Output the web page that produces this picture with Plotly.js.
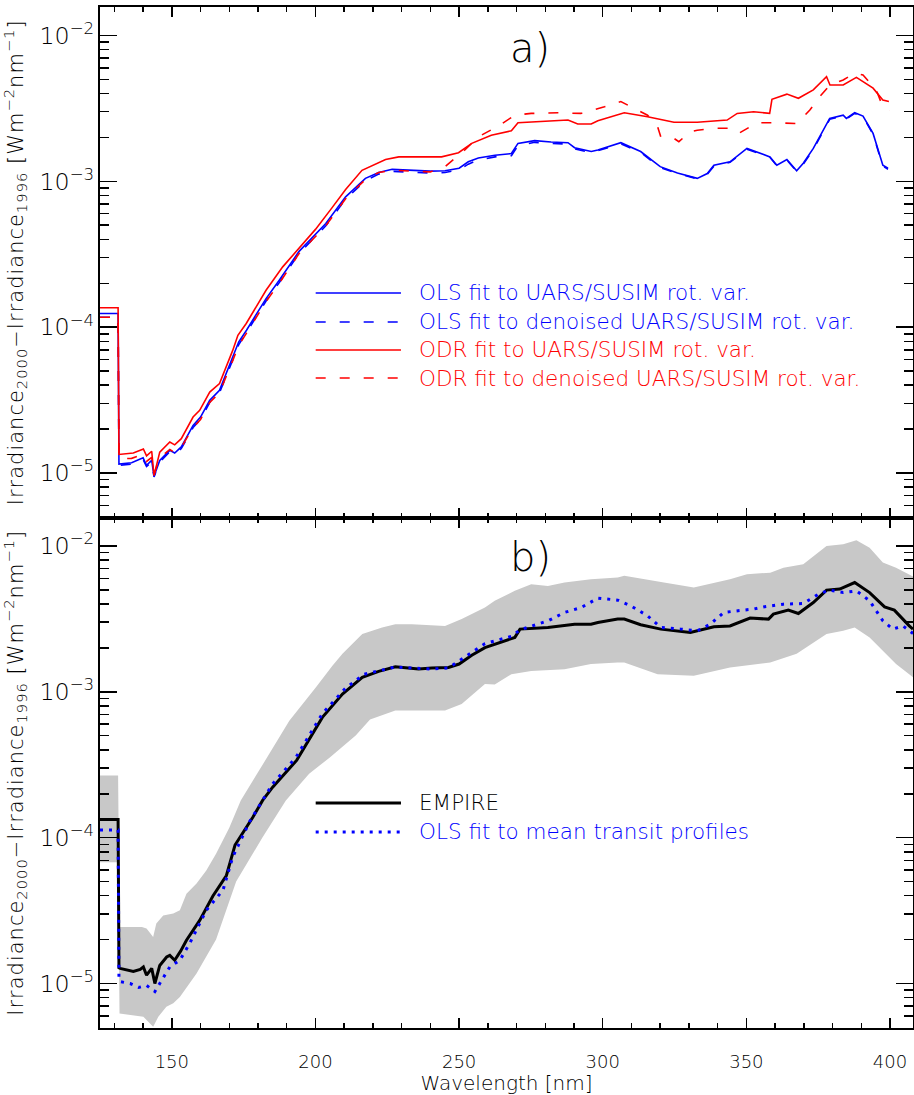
<!DOCTYPE html>
<html>
<head>
<meta charset="utf-8">
<script src="https://cdn.plot.ly/plotly-3.0.1.min.js"></script>
<style>
  html, body { margin: 0; padding: 0; background: #ffffff; }
  #chart { width: 914px; height: 1095px; }
  #chart text.ytitle, #chart text.y2title { letter-spacing: 1px; }
</style>
</head>
<body>
<div id="chart"></div>
<script>
// ---------- panel a: fits to UARS/SUSIM rotational variability ----------
const wlOls = [125,131.3,131.6,136,140,141.2,143,143.8,145.8,149.3,151,153.3,157.4,160,163.2,166.6,171.2,173.3,176,182.8,187.4,194.3,203.6,210.5,217.4,222,226.7,233.5,240,245.1,250,253.2,256.7,262.5,268.2,270.5,276.3,282,287.9,290.2,296,298.3,306.3,313.2,320,326,332.9,336.4,338.7,344.3,350.2,358.2,360.6,364.1,367.5,369.8,373.3,379,383.7,384.8,387.7,390.6,394.1,397.5,399.3];
const olsRot = [1.24e-4,1.24e-4,1.15e-5,1.175e-5,1.27e-5,1.13e-5,1.22e-5,9.5e-6,1.22e-5,1.43e-5,1.37e-5,1.51e-5,2.12e-5,2.42e-5,3.15e-5,3.69e-5,6.24e-5,7.94e-5,9.53e-5,1.57e-4,2.10e-4,3.31e-4,5.14e-4,7.83e-4,1.047e-3,1.15e-3,1.208e-3,1.194e-3,1.175e-3,1.18e-3,1.23e-3,1.36e-3,1.445e-3,1.51e-3,1.55e-3,1.82e-3,1.90e-3,1.86e-3,1.84e-3,1.70e-3,1.60e-3,1.64e-3,1.84e-3,1.60e-3,1.26e-3,1.14e-3,1.047e-3,1.13e-3,1.29e-3,1.36e-3,1.68e-3,1.47e-3,1.29e-3,1.41e-3,1.18e-3,1.33e-3,1.68e-3,2.70e-3,2.84e-3,2.70e-3,2.95e-3,2.80e-3,2.13e-3,1.29e-3,1.23e-3];
const olsDenoised = [1.17e-4,1.17e-4,1.13e-5,1.15e-5,1.24e-5,1.11e-5,1.19e-5,9.4e-6,1.19e-5,1.40e-5,1.34e-5,1.47e-5,2.05e-5,2.33e-5,3.05e-5,3.55e-5,5.95e-5,7.6e-5,9.2e-5,1.51e-4,2.02e-4,3.2e-4,4.95e-4,7.55e-4,1.01e-3,1.12e-3,1.17e-3,1.16e-3,1.14e-3,1.15e-3,1.20e-3,1.31e-3,1.40e-3,1.47e-3,1.50e-3,1.76e-3,1.85e-3,1.82e-3,1.80e-3,1.67e-3,1.57e-3,1.62e-3,1.81e-3,1.58e-3,1.24e-3,1.13e-3,1.04e-3,1.12e-3,1.27e-3,1.35e-3,1.66e-3,1.46e-3,1.28e-3,1.40e-3,1.17e-3,1.31e-3,1.65e-3,2.66e-3,2.81e-3,2.68e-3,2.92e-3,2.78e-3,2.10e-3,1.27e-3,1.21e-3];

const wlOdr = [125,131.3,131.6,136.6,140.1,141.2,143,143.8,145.8,149.3,151,153.3,157.4,159.7,163.2,166.6,171.2,173,175.9,182.8,188.6,194.3,200,205.8,210.5,216.2,224.4,229,238.2,243.9,249.8,254.4,261.2,268.2,270.5,277.5,287.9,291.3,296,298.3,307.5,315.6,324.8,332.9,343.3,346.8,352.5,358.1,358.9,364.1,368.1,373.3,377.9,379.1,383.7,388.3,394.1,397.5,399.6];
const odrRot = [1.36e-4,1.36e-4,1.34e-5,1.37e-5,1.46e-5,1.31e-5,1.41e-5,9.6e-6,1.39e-5,1.63e-5,1.56e-5,1.72e-5,2.42e-5,2.69e-5,3.59e-5,4.10e-5,6.93e-5,8.79e-5,1.06e-4,1.79e-4,2.59e-4,3.46e-4,4.68e-4,6.6e-4,8.8e-4,1.19e-3,1.41e-3,1.47e-3,1.46e-3,1.47e-3,1.57e-3,1.82e-3,2.07e-3,2.22e-3,2.52e-3,2.56e-3,2.63e-3,2.47e-3,2.47e-3,2.60e-3,2.95e-3,2.77e-3,2.54e-3,2.54e-3,2.63e-3,2.92e-3,3.0e-3,2.92e-3,3.65e-3,3.96e-3,3.71e-3,4.23e-3,5.21e-3,4.57e-3,4.57e-3,5.16e-3,4.35e-3,3.61e-3,3.52e-3];

const wlOdrDenoised = [125,131.3,131.6,136,140,141.2,143,143.8,145.8,149.3,151,153.3,157.4,160,163.2,166.6,171.2,173.3,176,182.8,187.4,194.3,203.6,210.5,217.4,222,226.7,233.5,240,245.1,252,256.7,263.6,269.4,275.1,284.4,292.4,300.6,306.3,311,315.6,319.1,320.2,324.8,326.5,330.5,332.9,338.7,344.3,347.3,351.3,353.7,360.6,367.5,372.1,375.5,379.1,383.7,387.7,390.6,395.2,397.5,399.8];
const odrDenoised = [1.17e-4,1.17e-4,1.25e-5,1.26e-5,1.34e-5,1.2e-5,1.28e-5,9.8e-6,1.27e-5,1.45e-5,1.38e-5,1.5e-5,2.05e-5,2.33e-5,3.05e-5,3.55e-5,5.9e-5,7.5e-5,9.1e-5,1.5e-4,2.0e-4,3.2e-4,4.95e-4,7.6e-4,1.03e-3,1.15e-3,1.19e-3,1.18e-3,1.16e-3,1.26e-3,1.64e-3,2.02e-3,2.39e-3,2.84e-3,2.92e-3,2.95e-3,2.92e-3,3.24e-3,3.52e-3,3.16e-3,2.84e-3,2.37e-3,2.02e-3,1.97e-3,1.87e-3,2.19e-3,2.24e-3,2.31e-3,2.31e-3,2.13e-3,2.37e-3,2.52e-3,2.52e-3,2.49e-3,3.08e-3,3.80e-3,4.57e-3,4.95e-3,5.51e-3,5.36e-3,4.23e-3,3.24e-3,3.05e-3];

// ---------- panel b: EMPIRE, transit-profile fit and uncertainty range ----------
const wlEmpire = [125,131.3,131.6,132,136.6,139,140.1,141.2,143,144.1,145.8,148.2,149.3,151,153,155.1,159.7,164.3,169,172,178.2,181.6,185.1,193.5,202.4,209.4,216.3,222,227.8,235.9,240.5,246.3,250,254.4,259,262.4,268.2,269.4,271.2,280.9,290.2,295.9,298.3,305.2,307.5,313.2,320.2,330.5,338.7,344.3,351.3,357.7,359.4,364.6,368.1,373.3,377.9,382.5,387.7,392.9,398.1,401.5,406.7,408];
const empire = [1.334e-4,1.334e-4,1.28e-5,1.27e-5,1.21e-5,1.25e-5,1.30e-5,1.14e-5,1.27e-5,1.0e-5,1.33e-5,1.52e-5,1.56e-5,1.445e-5,1.66e-5,1.98e-5,2.71e-5,3.98e-5,5.5e-5,8.9e-5,1.38e-4,1.80e-4,2.22e-4,3.4e-4,6.68e-4,9.66e-4,1.256e-3,1.38e-3,1.486e-3,1.432e-3,1.455e-3,1.469e-3,1.55e-3,1.78e-3,2.01e-3,2.12e-3,2.30e-3,2.36e-3,2.69e-3,2.76e-3,2.91e-3,2.91e-3,2.99e-3,3.15e-3,3.15e-3,2.88e-3,2.69e-3,2.55e-3,2.79e-3,2.83e-3,3.20e-3,3.15e-3,3.41e-3,3.63e-3,3.44e-3,4.09e-3,4.98e-3,5.06e-3,5.61e-3,4.79e-3,3.82e-3,3.63e-3,2.83e-3,2.69e-3];

const wlTransit = [125,131.3,131.6,132,135.5,138.5,141.2,144.1,145.8,149.3,152.8,156.2,162,167.8,171.2,177,185.1,193.2,202.4,210.5,217,227.8,240.5,246.3,254.4,259,268.2,271.2,281,286.7,292.5,298.3,305.2,309.8,315.6,320.2,327.1,332.9,337.5,342.1,349,352.5,355.9,362.9,369.8,375.5,379,383.7,388.3,392.9,397.5,401,404.5,408];
const transit = [1.13e-4,1.13e-4,1.07e-5,1.03e-5,1.0e-5,9.4e-6,9.7e-6,8.8e-6,1.0e-5,1.30e-5,1.445e-5,1.88e-5,3.18e-5,4.36e-5,7.36e-5,1.28e-4,2.34e-4,3.55e-4,7.08e-4,1.06e-3,1.32e-3,1.48e-3,1.43e-3,1.46e-3,1.86e-3,2.14e-3,2.40e-3,2.66e-3,3.07e-3,3.50e-3,3.78e-3,4.39e-3,4.25e-3,3.88e-3,3.32e-3,2.76e-3,2.69e-3,2.62e-3,2.91e-3,3.50e-3,3.63e-3,3.69e-3,3.82e-3,3.99e-3,4.03e-3,4.72e-3,4.98e-3,4.79e-3,4.92e-3,4.21e-3,3.07e-3,2.69e-3,2.83e-3,2.51e-3];

const wlBandHi = [125,131.3,131.8,139.6,141.2,143.5,144.6,147,150.5,152.8,155.1,158.6,162,165.4,170,174,181.6,190.9,200.1,205.9,209.4,216.3,223.2,227.8,233.6,245.1,250.9,259,262.4,269.4,275.1,280.9,286.7,295.9,305.2,307.5,321.3,331.7,344.3,350.2,358.3,362.9,369.8,377.9,383.7,388.3,392.9,397.5,402.1,408];
const bandHi = [2.67e-4,2.67e-4,2.44e-5,2.44e-5,2.38e-5,2.08e-5,2.58e-5,2.93e-5,3.02e-5,3.18e-5,4.13e-5,4.84e-5,5.96e-5,7.76e-5,1.17e-4,1.8e-4,3.16e-4,6.34e-4,1.07e-3,1.51e-3,1.82e-3,2.49e-3,2.76e-3,2.91e-3,2.91e-3,2.83e-3,3.15e-3,3.78e-3,4.21e-3,4.92e-3,5.47e-3,5.32e-3,5.61e-3,5.92e-3,6.07e-3,6.24e-3,5.61e-3,5.19e-3,5.92e-3,6.40e-3,6.56e-3,7.10e-3,7.50e-3,1.0e-2,1.028e-2,1.094e-2,9.73e-3,7.69e-3,7.10e-3,6.17e-3];

const wlBandLo = [125,131.3,131.8,140.1,143.5,145.3,148.1,150.5,152.8,158.6,165.4,172.4,177,181.6,189.7,197.8,205,214,219,227.8,245.1,250.9,259,262.4,268.2,275.1,286.7,295.9,305.2,307.5,319.1,331.7,344.3,358.3,367.5,377.9,383.7,387.7,392.9,397.5,402.1,408];
const bandLo = [6.79e-5,6.79e-5,6.24e-6,5.92e-6,5.05e-6,5.92e-6,6.92e-6,7.33e-6,8.09e-6,1.17e-5,2.0e-5,5.0e-5,7.08e-5,1.007e-4,1.80e-4,2.74e-4,3.55e-4,5.01e-4,6.46e-4,7.43e-4,7.43e-4,8.26e-4,1.13e-3,1.12e-3,1.32e-3,1.39e-3,1.43e-3,1.55e-3,1.59e-3,1.59e-3,1.32e-3,1.29e-3,1.47e-3,1.59e-3,1.82e-3,2.49e-3,2.62e-3,2.76e-3,2.36e-3,1.91e-3,1.55e-3,1.26e-3];

// ---------- styling ----------
const FONT = '"DejaVu Sans", "Noto Sans", sans-serif';
const WEIGHT = 200;
const BLUE = '#0000ff';
const RED = '#ff0000';
const GREY = '#c8c8c8';
const LONG_DASH = '10px,14px';
const DOTS = '3px,6px';

function font(size, color) {
  return { family: FONT, size: size, color: color || '#000', weight: WEIGHT };
}

function line(x, y, color, width, dash, xa, ya, name) {
  return {
    type: 'scatter', mode: 'lines', x: x, y: y, name: name,
    xaxis: xa, yaxis: ya, hoverinfo: 'skip', showlegend: false,
    line: { color: color, width: width, dash: dash }
  };
}

// closed polygon: upper edge left to right, lower edge back
const bandX = wlBandHi.concat(wlBandLo.slice().reverse());
const bandY = bandHi.concat(bandLo.slice().reverse());

const traces = [
  line(wlOls, olsRot, BLUE, 1.6, 'solid', 'x2', 'y2', 'OLS fit to UARS/SUSIM rot. var.'),
  line(wlOls, olsDenoised, BLUE, 1.6, LONG_DASH, 'x2', 'y2', 'OLS fit to denoised UARS/SUSIM rot. var.'),
  line(wlOdr, odrRot, RED, 1.6, 'solid', 'x2', 'y2', 'ODR fit to UARS/SUSIM rot. var.'),
  line(wlOdrDenoised, odrDenoised, RED, 1.6, LONG_DASH, 'x2', 'y2', 'ODR fit to denoised UARS/SUSIM rot. var.'),
  {
    type: 'scatter', mode: 'lines', x: bandX, y: bandY, xaxis: 'x', yaxis: 'y',
    fill: 'toself', fillcolor: GREY, line: { width: 0, color: GREY },
    hoverinfo: 'skip', showlegend: false, name: 'range'
  },
  line(wlEmpire, empire, '#000000', 3, 'solid', 'x', 'y', 'EMPIRE'),
  line(wlTransit, transit, BLUE, 3, DOTS, 'x', 'y', 'OLS fit to mean transit profiles')
];

const yTitle = 'Irradiance<sub>2000</sub>\u2212Irradiance<sub>1996</sub> [Wm<sup>\u22122</sup>nm<sup>\u22121</sup>]';

function xAxis(anchor, showLabels) {
  const ax = {
    anchor: anchor, domain: [0, 1], range: [125, 408],
    tickmode: 'linear', tick0: 0, dtick: 50,
    ticks: 'inside', ticklen: 10, tickwidth: 1.5, tickcolor: '#000',
    minor: { tick0: 0, dtick: 10, ticks: 'inside', ticklen: 5, tickwidth: 1.5, tickcolor: '#000' },
    showline: true, linewidth: 2, linecolor: '#000', mirror: 'allticks',
    showgrid: false, zeroline: false,
    showticklabels: showLabels, tickfont: font(18), ticklabelstandoff: 16
  };
  if (showLabels) ax.title = { text: 'Wavelength [nm]', font: font(20), standoff: 2 };
  return ax;
}

function yAxis(anchor, domain) {
  return {
    anchor: anchor, domain: domain, type: 'log', range: [-5.305, -1.805],
    tickmode: 'linear', tick0: 0, dtick: 1, exponentformat: 'power',
    ticks: 'inside', ticklen: 17, tickwidth: 1.5, tickcolor: '#000',
    minor: { dtick: 'D1', ticks: 'inside', ticklen: 9, tickwidth: 1.5, tickcolor: '#000' },
    showline: true, linewidth: 2, linecolor: '#000', mirror: 'allticks',
    showgrid: false, zeroline: false,
    tickfont: font(19),
    title: { text: yTitle, font: font(21), standoff: 12 }
  };
}

// key entries drawn inside each panel
const keyA = [
  { text: 'OLS fit to UARS/SUSIM rot. var.', color: BLUE, dash: 'solid', y: 0.7199 },
  { text: 'OLS fit to denoised UARS/SUSIM rot. var.', color: BLUE, dash: LONG_DASH, y: 0.6915 },
  { text: 'ODR fit to UARS/SUSIM rot. var.', color: RED, dash: 'solid', y: 0.6641 },
  { text: 'ODR fit to denoised UARS/SUSIM rot. var.', color: RED, dash: LONG_DASH, y: 0.6366 }
];
const keyB = [
  { text: 'EMPIRE', color: '#000000', dash: 'solid', y: 0.2204, width: 3 },
  { text: 'OLS fit to mean transit profiles', color: BLUE, dash: DOTS, y: 0.1920, width: 3 }
];

const shapes = [];
const annotations = [];
keyA.concat(keyB).forEach(k => {
  shapes.push({
    type: 'line', xref: 'paper', yref: 'paper', x0: 0.2653, x1: 0.3702, y0: k.y, y1: k.y,
    line: { color: k.color, width: k.width || 1.6, dash: k.dash }
  });
  annotations.push({
    xref: 'paper', yref: 'paper', x: 0.3895, y: k.y, xanchor: 'left', yanchor: 'middle',
    text: k.text, showarrow: false, font: font(21.5, k.color)
  });
});
annotations.push(
  { xref: 'paper', yref: 'paper', x: 0.529, y: 0.9603, xanchor: 'center', yanchor: 'middle',
    text: 'a)', showarrow: false, font: font(40) },
  { xref: 'paper', yref: 'paper', x: 0.529, y: 0.4613, xanchor: 'center', yanchor: 'middle',
    text: 'b)', showarrow: false, font: font(40) }
);

const layout = {
  width: 914, height: 1095,
  margin: { l: 100, r: 1, t: 7, b: 67, pad: 0 },
  paper_bgcolor: '#ffffff', plot_bgcolor: '#ffffff',
  font: font(18),
  showlegend: false,
  xaxis: xAxis('y', true),
  xaxis2: Object.assign(xAxis('y2', false), { matches: 'x' }),
  yaxis: yAxis('x', [0, 0.5]),
  yaxis2: yAxis('x2', [0.5, 1]),
  shapes: shapes,
  annotations: annotations
};

Plotly.newPlot('chart', traces, layout, { staticPlot: true, displayModeBar: false });
</script>
</body>
</html>
